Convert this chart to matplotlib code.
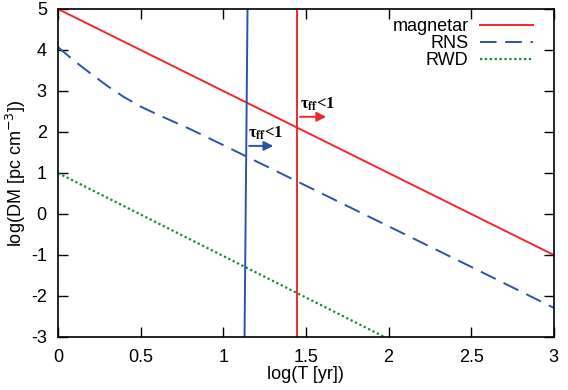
import numpy as np
import matplotlib
matplotlib.use("Agg")
import matplotlib.pyplot as plt

plt.rcParams['font.family'] = ['Liberation Sans', 'DejaVu Sans']
plt.rcParams['axes.unicode_minus'] = False

# curves
logT = [0.0, 3.0]
dm_magnetar = [5.0, -1.0]

rns_T = [0.0, 0.1, 0.2, 0.3, 0.4, 0.5, 0.6, 0.7, 0.8, 1.0, 1.5, 2.0, 2.5, 3.0]
rns_dm = [4.07, 3.73, 3.42, 3.12, 2.85, 2.62, 2.43, 2.25, 2.07, 1.68, 0.69, -0.30, -1.29, -2.29]

rwd_T = [0.0, 2.0]
rwd_dm = [1.0, -3.05]

# tau_ff = 1 boundaries
tau_rns_T = [1.129, 1.147]
tau_rns_dm = [-3.0, 5.0]
tau_mag_T = [1.448, 1.448]
tau_mag_dm = [-3.0, 5.0]

red = '#f0282d'
blue = '#2c53a8'
green = '#138a3a'

fig = plt.figure(figsize=(5.68, 3.9), dpi=100)
ax = fig.add_axes([0.102, 0.136, 0.873, 0.841])

ax.plot(logT, dm_magnetar, color=red, lw=1.4, label='magnetar')
ax.plot(rns_T, rns_dm, color=blue, lw=1.4, dashes=(8.5, 4.5), label='RNS')
ax.plot(rwd_T, rwd_dm, color=green, lw=1.6, linestyle=(0, (1, 1.2)), label='RWD')

ax.plot(tau_rns_T, tau_rns_dm, color=blue, lw=1.4)
ax.plot(tau_mag_T, tau_mag_dm, color=red, lw=1.4)

# arrows pointing to the optically thin side
ax.annotate('', xy=(1.32, 1.66), xytext=(1.14, 1.66),
            arrowprops=dict(arrowstyle='-|>', color=blue, lw=1.4, mutation_scale=14))
ax.annotate('', xy=(1.64, 2.37), xytext=(1.448, 2.37),
            arrowprops=dict(arrowstyle='-|>', color=red, lw=1.4, mutation_scale=14))
lab = u'\u03c4$_{\\mathbf{ff}}$<1'
ax.text(1.152, 1.86, lab, family='Liberation Serif', math_fontfamily='stix',
        fontweight='bold', fontsize=12)
ax.text(1.465, 2.58, lab, family='Liberation Serif', math_fontfamily='stix',
        fontweight='bold', fontsize=12)

ax.set_xlim(0, 3)
ax.set_ylim(-3, 5)
ax.set_xticks([0, 0.5, 1, 1.5, 2, 2.5, 3])
ax.set_xticklabels(['0', '0.5', '1', '1.5', '2', '2.5', '3'])
ax.set_yticks(range(-3, 6))
ax.tick_params(direction='in', top=True, right=True, labelsize=13, length=7, width=1)
ax.tick_params(axis='x', pad=9)
ax.tick_params(axis='y', pad=8)
for s in ax.spines.values():
    s.set_linewidth(1.2)

ax.set_xlabel('log(T [yr])', fontsize=13, labelpad=0)
ax.set_ylabel('log(DM [pc cm$^{-3}$])', fontsize=13, labelpad=2)

ax.legend(loc='upper right', bbox_to_anchor=(0.972, 0.995), frameon=False,
          markerfirst=False, fontsize=13, handlelength=2.9, labelspacing=0.0,
          borderaxespad=0.0, handletextpad=0.65)

fig.savefig('out.png', dpi=100)
